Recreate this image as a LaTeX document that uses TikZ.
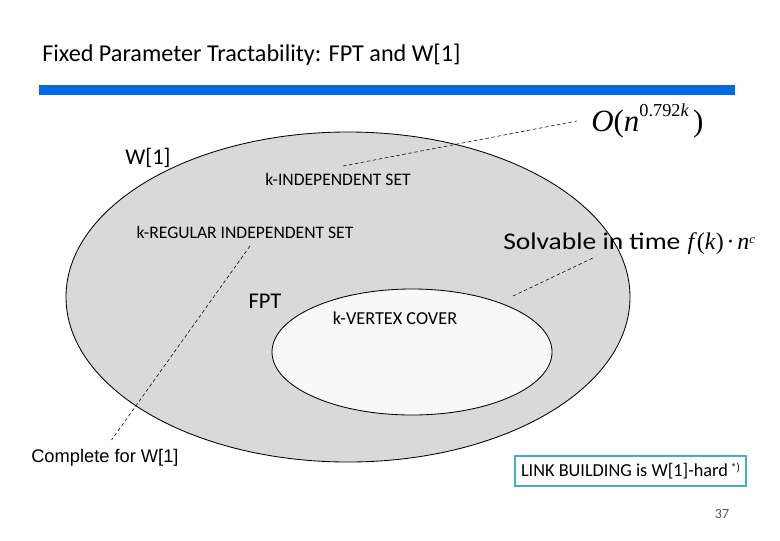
\documentclass[tikz,border=0pt]{standalone}
\usepackage{fontspec}
\setmainfont{Carlito}
\newfontfamily\arialfont{Liberation Sans}
\newfontfamily\timesfont{Liberation Serif}
\usepackage{xcolor}
\usetikzlibrary{positioning}

\definecolor{barblue}{RGB}{0,104,224}
\definecolor{setgray}{RGB}{217,217,217}
\definecolor{fptwhite}{RGB}{248,248,248}
\definecolor{boxteal}{RGB}{75,172,198}

\tikzset{
  lbl/.style={inner sep=0pt, font=\fontsize{12.5}{15}\selectfont},
  biglbl/.style={inner sep=0pt, font=\fontsize{16}{19}\selectfont},
  pointer/.style={dash pattern=on 2.5pt off 1.8pt, line width=0.4pt},
}

\begin{document}
\begin{tikzpicture}[x=0.025cm,y=-0.025cm]
		\useasboundingbox (0,0) rectangle (780,540);
		
		\node[biglbl, anchor=west, font=\fontsize{17.2}{20}\selectfont] (title) at (42,55) {Fixed Parameter Tractability: FPT and W[1]};
		\fill[barblue] (39,85) rectangle (735,95);
		
		% the two classes
		\draw[fill=setgray, line width=0.6pt] (348,297) ellipse (282 and 165);
		\draw[fill=fptwhite, line width=0.6pt] (412,352) ellipse (140 and 63);
		
		\node[biglbl] (w1) at (148,158) {W[1]};
		\node[lbl] (indset) at (338,179) {k-INDEPENDENT SET};
		\node[lbl] (regset) at (245,232) {k-REGULAR INDEPENDENT SET};
		\node[biglbl] (fpt) at (265,301) {FPT};
		\node[lbl, font=\fontsize{13}{15}\selectfont] (vc) at (395,318) {k-VERTEX COVER};
		
		\node[anchor=west, inner sep=0pt, font=\timesfont\fontsize{22}{26}\selectfont] (runtime) at (591,121)
			{\textit{O}(\textit{n}\raisebox{1.05ex}{\fontsize{13}{15}\selectfont 0.792\textit{k}}\hspace{3pt})};
		\node[anchor=west, inner sep=0pt, font=\fontsize{17}{20}\selectfont] (solv) at (503,244)
			{\scalebox{1.15}[1]{Solvable in time}\hspace{5pt}{\timesfont\fontsize{17}{20}\selectfont\textit{f}(\textit{k})\hspace{2pt}·\hspace{2pt}\textit{n}\raisebox{0.6ex}{\fontsize{9}{11}\selectfont\textit{c}}}};
		
		\node[anchor=west, inner sep=0pt, font=\arialfont\fontsize{13}{15}\selectfont] (complete) at (31,458) {Complete for W[1]};
		\node[draw=boxteal, line width=0.8pt, fill=white, minimum width=5.775cm, minimum height=0.75cm,
			inner sep=0pt, font=\fontsize{13}{15}\selectfont] (hard) at (630.5,471)
			{LINK BUILDING is W[1]-hard\,\raisebox{0.6ex}{\fontsize{8}{9}\selectfont *)}};
		\node[text=black!65, font=\fontsize{10}{12}\selectfont] (page) at (722,514) {37};
		
		% pointers
		\coordinate (indfoot) at (343,166);
		\coordinate (solvtip) at (513,296);
		\coordinate (solvfoot) at (595,257);
		\coordinate (regfoot) at (250,246);
		\draw[pointer] (indfoot) -- ([xshift=-10]runtime.west);
		\draw[pointer] (solvtip) -- (solvfoot);
		\draw[pointer, shorten >=8] (regfoot) -- (complete.north);
	\end{tikzpicture}
\end{document}
